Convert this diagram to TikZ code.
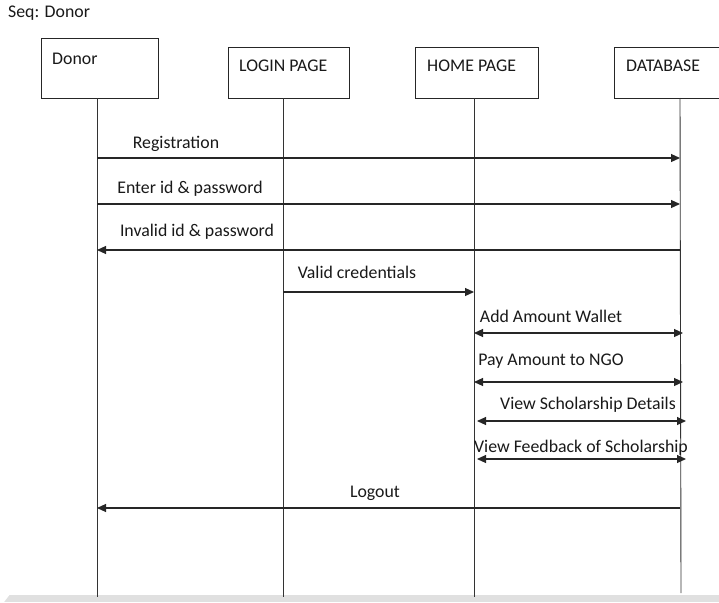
\documentclass[tikz,border=0pt]{standalone}
\usepackage{fontspec}
\setmainfont{Carlito}
\usetikzlibrary{arrows.meta}
\begin{document}
\begin{tikzpicture}[x=1pt,y=-1pt,
  every node/.style={font=\fontsize{17.8}{21}\selectfont, text=black!90},
  actor/.style={draw=black!85, line width=1pt, minimum width=#1, minimum height=51, inner sep=0pt},
  lifeline/.style={draw=black!80, line width=0.9pt},
  msg/.style={draw=black!85, line width=1.1pt, -{Triangle[length=9pt,width=8pt]}},
  bimsg/.style={draw=black!85, line width=1.1pt, {Triangle[length=9pt,width=8pt]}-{Triangle[length=9pt,width=8pt]}},
  lbl/.style={inner sep=0pt, anchor=base}]
% canvas
\useasboundingbox (0,0) rectangle (719,602);
\fill[white] (0,0) rectangle (719,602);
\fill[black!12] (0,595) rectangle (719,602);
\fill[white] (0,589) -- (14,589) -- (4,602) -- (0,602) -- cycle;

% title
\node[lbl, anchor=base west] (title) at (8,18) {Seq: Donor};

% participants
\node[actor=117, minimum height=60, anchor=north west] (donor) at (41,38) {};
\node[lbl, anchor=base west] (donorname) at (52,64) {Donor};
\node[actor=121, anchor=north west] (login) at (228,47) {};
\node[lbl, anchor=base west] (loginname) at (239,71) {LOGIN PAGE};
\node[actor=123, anchor=north west] (home) at (415,47) {};
\node[lbl, anchor=base west] (homename) at (427,71) {HOME PAGE};
\node[actor=120, anchor=north west] (db) at (614,47) {};
\node[lbl, anchor=base west] (dbname) at (626,71) {DATABASE};

% lifelines
\coordinate (dtop) at (97,98);   \coordinate (dbot) at (97,597);
\coordinate (ltop) at (283,98);  \coordinate (lbot) at (283,597);
\coordinate (htop) at (474,98);  \coordinate (hbot) at (474,597);
\coordinate (btop) at (680,98);  \coordinate (bbot) at (681,593);
\draw[lifeline] (dtop) -- (dbot);
\draw[lifeline] (ltop) -- (lbot);
\draw[lifeline] (htop) -- (hbot);
\draw[lifeline] (btop) -- (bbot);

% messages
\draw[msg] (dtop |- 0,158) -- (btop |- 0,158);
\node[lbl] (m1) at (176,148.5) {Registration};
\draw[msg] (dtop |- 0,204) -- (btop |- 0,204);
\node[lbl] (m2) at (190,193) {Enter id \& password};
\draw[msg] (btop |- 0,250) -- (dtop |- 0,250);
\node[lbl] (m3) at (197,236) {Invalid id \& password};
\draw[msg] (ltop |- 0,292) -- (htop |- 0,292);
\node[lbl] (m4) at (357,278) {Valid credentials};
\draw[bimsg] (htop |- 0,333) -- (683,333);
\node[lbl] (m5) at (551,322) {Add Amount Wallet};
\draw[bimsg] (htop |- 0,382) -- (683,382);
\node[lbl] (m6) at (551,365) {Pay Amount to NGO};
\draw[bimsg] (477,421) -- (686,421);
\node[lbl] (m7) at (588,409) {View Scholarship Details};
\draw[bimsg] (477,459) -- (686,459);
\node[lbl] (m8) at (581,452) {View Feedback of Scholarship};
\draw[msg] (btop |- 0,508) -- (dtop |- 0,508);
\node[lbl] (m9) at (375,497) {Logout};
\end{tikzpicture}
\end{document}
